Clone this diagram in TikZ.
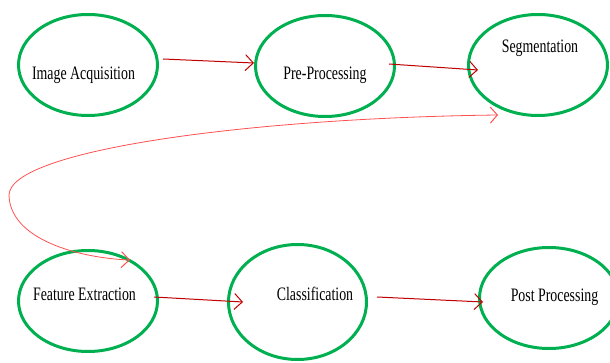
\documentclass[tikz,border=0pt]{standalone}
\usepackage{fontspec}
\setmainfont{Liberation Serif}
\usepackage{graphicx}
\usetikzlibrary{shapes.geometric,arrows.meta}
\definecolor{ellgreen}{RGB}{0,176,80}
\definecolor{arrred}{RGB}{192,0,0}
\definecolor{curvered}{RGB}{255,80,80}
\tikzset{
  stage/.style={ellipse, draw=ellgreen, line width=3pt, inner sep=0pt,
    minimum width=139pt, minimum height=101pt},
  lbl/.style={anchor=base, inner sep=0pt, font=\fontsize{19}{22}\selectfont},
  flow/.style={draw=arrred, line width=1pt,
    -{Straight Barb[length=8pt,width=16pt,line width=1pt]}},
  loopback/.style={draw=curvered, line width=0.8pt,
    {Straight Barb[length=7pt,width=16pt,line width=1pt]}-{Straight Barb[length=8pt,width=16pt,line width=1pt]}}
}
\newcommand{\cond}[1]{\scalebox{0.73}[1]{#1}}
\begin{document}
\begin{tikzpicture}[x=1pt,y=-1pt]
\useasboundingbox (0,0) rectangle (610,363);
\clip (0,0) rectangle (610,363);
% ellipses
\node[stage] (ia) at (88,65) {};
\node[stage] (pp) at (325,66) {};
\node[stage] (seg) at (538,65) {};
\node[stage] (fe) at (88,301) {};
\node[stage, minimum width=138pt, minimum height=115pt] (cl) at (297.5,302) {};
\node[stage] (post) at (549,298) {};
% labels
\node[lbl] (tia) at (83.5,80) {\cond{Image Acquisition}};
\node[lbl] (tpp) at (325,80) {\cond{Pre-Processing}};
\node[lbl] (tseg) at (540,53) {\cond{Segmentation}};
\node[lbl] (tfe) at (84.5,300) {\cond{Feature Extraction}};
\node[lbl] (tcl) at (315,300) {\cond{Classification}};
\node[lbl] (tpost) at (554.5,301) {\cond{Post Processing}};
% straight connectors
\draw[flow] ([shift={(4,-6)}]ia.east) -- ([shift={(0,-3)}]pp.west);
\draw[flow] ([shift={(-7,-2)}]pp.east) -- ([shift={(11,5)}]seg.west);
\draw[flow] ([shift={(-5,-4)}]fe.east) -- ([shift={(16,0)}]cl.west);
\draw[flow] ([shift={(9,-5)}]cl.east) -- ([shift={(5,4)}]post.west);
% loop-back curve
\coordinate (c1) at ([shift={(-40,50)}]seg.center);
\coordinate (c2) at ([shift={(42,-41)}]fe.center);
\draw[loopback] (c1) .. controls (250,118) and (10,150) .. (9,195)
  .. controls (10,240) and (80,258) .. (c2);
\end{tikzpicture}
\end{document}
